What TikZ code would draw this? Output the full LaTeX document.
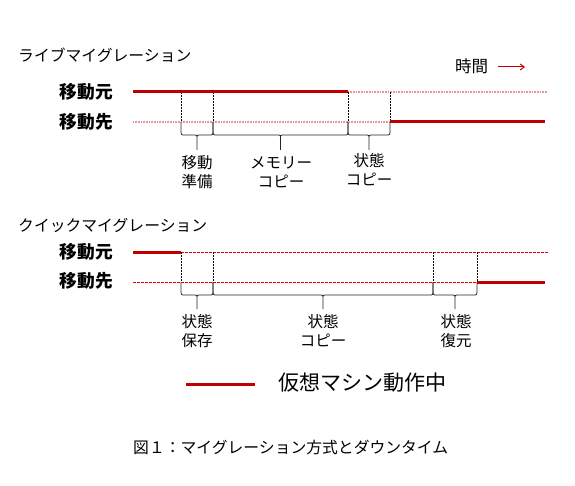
\documentclass[tikz,border=0pt]{standalone}
\usepackage{fontspec}
\setmainfont{Noto Sans CJK JP}
\usetikzlibrary{arrows.meta}
\definecolor{runred}{RGB}{192,0,0}
\definecolor{idlepink}{RGB}{232,150,158}
\definecolor{dashred}{RGB}{224,0,0}
\newcommand\phasebrace[4]{% x1, x2, ytop, depth
  \draw[bracestyle] (#1,#3) -- (#1,#3+8) .. controls (#1,#3+13) .. (#1+4,#3+13)
    -- ({(#1+#2)/2-4},#3+13) .. controls ({(#1+#2)/2},#3+13) .. ({(#1+#2)/2},#3+17)
    -- ({(#1+#2)/2},#3+#4)
    ({(#1+#2)/2},#3+17) .. controls ({(#1+#2)/2},#3+13) .. ({(#1+#2)/2+4},#3+13)
    -- (#2-4,#3+13) .. controls (#2,#3+13) .. (#2,#3+8) -- (#2,#3);}
\begin{document}
\begin{tikzpicture}[x=1pt,y=-1pt,
  heading/.style={anchor=west,inner sep=0pt,font=\fontsize{15.8}{18}\selectfont},
  hostlbl/.style={anchor=east,inner sep=0pt,font=\fontsize{17.7}{20}\selectfont\bfseries},
  phase/.style={inner sep=0pt,align=center,font=\fontsize{15.5}{19}\selectfont},
  run/.style={draw=runred,line width=3pt},
  idle/.style={draw=idlepink,line width=1.6pt,dash pattern=on 1pt off 0.6pt},
  thinred/.style={draw=dashred,line width=0.9pt,dash pattern=on 3pt off 1pt},
  vdash/.style={draw=black,line width=0.8pt,dash pattern=on 2pt off 1pt},
  bracestyle/.style={draw=black!85,line width=0.8pt},
]
\useasboundingbox (0,0) rectangle (575,486);

% ---------- Live migration ----------
\node[heading] (h1) at (18,55) {ライブマイグレーション};
\node[anchor=west,inner sep=0pt,font=\fontsize{16.5}{19}\selectfont] (time) at (455,66) {時間};
\coordinate (ta) at (498,67);
\coordinate (tb) at (525,67);
\draw[draw=runred,line width=1pt,-{Straight Barb[length=4pt,width=6pt]}] (ta) -- (tb);

\node[hostlbl] (src1) at (113,92) {移動元};
\node[hostlbl] (dst1) at (113,122) {移動先};

\coordinate (a0) at (133,92);
\coordinate (a1) at (181,92);
\coordinate (a2) at (213,92);
\coordinate (a3) at (348,92);
\coordinate (a4) at (390,92);
\coordinate (aE) at (548,92);
\coordinate (b0) at (133,122);
\coordinate (b1) at (181,122);
\coordinate (b2) at (213,122);
\coordinate (b3) at (348,122);
\coordinate (b4) at (390,122);
\coordinate (bE) at (545,122);

\draw[idle] (a3) -- (aE);
\draw[idle] (b0) -- (b4);
\draw[vdash] (a1) -- (b1);
\draw[vdash] (a2) -- (b2);
\draw[vdash] (a3) -- (b3);
\draw[vdash] (a4) -- (b4);
\draw[run] (a0) -- (a3);
\draw[run] (b4) -- (bE);

\phasebrace{181}{213}{122}{28}
\phasebrace{213}{348}{122}{28}
\phasebrace{348}{390}{122}{28}

\node[phase] (p1) at (197,172) {移動\\準備};
\node[phase] (p2) at (281,172) {メモリー\\コピー};
\node[phase] (p3) at (369,170) {状態\\コピー};

% ---------- Quick migration ----------
\node[heading] (h2) at (18,225) {クイックマイグレーション};
\node[hostlbl] (src2) at (113,252) {移動元};
\node[hostlbl] (dst2) at (113,281) {移動先};

\coordinate (c0) at (133,252);
\coordinate (c1) at (181,252);
\coordinate (c2) at (213,252);
\coordinate (c3) at (433,252);
\coordinate (c4) at (477,252);
\coordinate (cE) at (548,252);
\coordinate (d0) at (133,282);
\coordinate (d1) at (181,282);
\coordinate (d2) at (213,282);
\coordinate (d3) at (433,282);
\coordinate (d4) at (477,282);
\coordinate (dE) at (545,282);

\draw[thinred] (c1) -- (cE);
\draw[thinred] (d0) -- (d4);
\draw[vdash] (c1) -- (d1);
\draw[vdash] (c2) -- (d2);
\draw[vdash] (c3) -- (d3);
\draw[vdash] (c4) -- (d4);
\draw[run] (c0) -- (c1);
\draw[run] (d4) -- (dE);

\phasebrace{181}{213}{282}{27}
\phasebrace{213}{433}{282}{27}
\phasebrace{433}{477}{282}{27}

\node[phase] (q1) at (197,331) {状態\\保存};
\node[phase] (q2) at (323,331) {状態\\コピー};
\node[phase] (q3) at (456,331) {状態\\復元};

% ---------- Legend ----------
\coordinate (la) at (186,384);
\coordinate (lb) at (255,384);
\draw[run] (la) -- (lb);
\node[anchor=west,inner sep=0pt,font=\fontsize{21}{24}\selectfont] (legend) at (278,383) {仮想マシン動作中};

% ---------- Caption ----------
\node[anchor=west,inner sep=0pt,font=\fontsize{15.8}{18}\selectfont] (cap) at (133,447) {図１：マイグレーション方式とダウンタイム};
\end{tikzpicture}
\end{document}
